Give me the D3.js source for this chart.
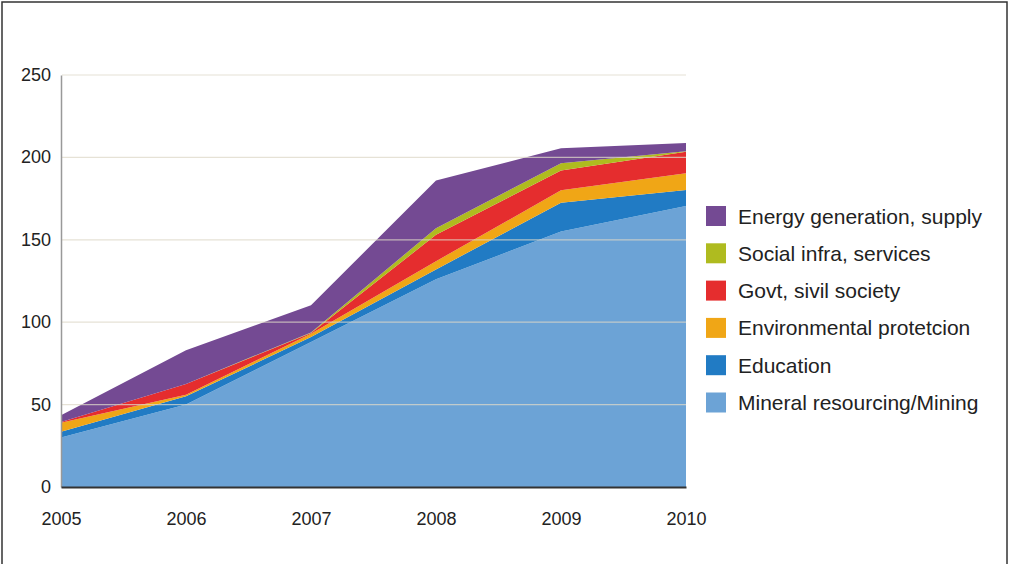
<!DOCTYPE html>
<html><head><meta charset="utf-8">
<script src="https://cdn.jsdelivr.net/npm/d3@7"></script>
<style>body{margin:0;background:#fff;}svg{display:block;font-family:"Liberation Sans",Arial,sans-serif;}</style>
</head><body>
<svg id="c" width="1010" height="564"></svg>
<script>
const years = [2005, 2006, 2007, 2008, 2009, 2010];
const mining = [30, 50, 88, 126, 155, 170.5];
const education = [3.5, 5, 3, 6, 17.5, 9.7];
const environment = [5.5, 1, 2, 5, 7.5, 10.2];
const govt = [0.5, 6.5, 0.5, 16, 12, 13.1];
const social = [0, 0, 0.3, 4, 4.5, 0.3];
const energy = [4, 20.5, 16.5, 29, 9, 5];
const seriesNames = ["Mineral resourcing/Mining", "Education", "Environmental protetcion", "Govt, sivil society", "Social infra, services", "Energy generation, supply"];
const seriesColors = ["#6ca3d6", "#217bc4", "#f0a616", "#e52d2e", "#afbb1f", "#744a93"];
const yTicks = [0, 50, 100, 150, 200, 250];

const seriesVals = [mining, education, environment, govt, social, energy];
const rows = years.map((y, i) => {
  const r = {year: y};
  seriesNames.forEach((n, k) => r[n] = seriesVals[k][i]);
  return r;
});

const svg = d3.select("#c");
// frame
svg.append("rect").attr("x", 2).attr("y", 2).attr("width", 1005).attr("height", 580)
  .attr("fill", "none").attr("stroke", "#333").attr("stroke-width", 1.5);

const x = d3.scaleLinear().domain([2005, 2010]).range([61, 686]);
const y = d3.scaleLinear().domain([0, 250]).range([487, 75]);

const stack = d3.stack().keys(seriesNames);
const layers = stack(rows);
const area = d3.area().x(d => x(d.data.year)).y0(d => y(d[0])).y1(d => y(d[1]));

svg.append("g").selectAll("path").data(layers).join("path")
  .attr("d", area).attr("fill", (d, i) => seriesColors[i]);

// gridlines
svg.append("g").selectAll("line").data(yTicks.filter(t => t > 0)).join("line")
  .attr("x1", 62).attr("x2", 686).attr("y1", d => y(d)).attr("y2", d => y(d))
  .attr("stroke", "#ddd8c8").attr("stroke-opacity", 0.75).attr("stroke-width", 1.2);

// y axis
const yAxis = d3.axisLeft(y).tickValues(yTicks).tickSize(0).tickPadding(10);
const gy = svg.append("g").attr("transform", "translate(61,0)").call(yAxis);
gy.select(".domain").attr("stroke", "#999").attr("stroke-width", 1.5);
gy.selectAll("text").attr("font-size", 18).attr("fill", "#222")
  .attr("font-family", "Liberation Sans, Arial, sans-serif").attr("dy", "0.3em");

// x axis
const xAxis = d3.axisBottom(x).tickValues(years).tickFormat(d3.format("d")).tickSize(0).tickPadding(25);
const gx = svg.append("g").attr("transform", "translate(0,487)").call(xAxis);
gx.select(".domain").attr("stroke", "#333").attr("stroke-width", 2);
gx.selectAll("text").attr("font-size", 18).attr("fill", "#222")
  .attr("font-family", "Liberation Sans, Arial, sans-serif");

// legend
const legendOrder = seriesNames.map((n, i) => i).reverse();
const lg = svg.append("g").attr("transform", "translate(706,206)");
const item = lg.selectAll("g").data(legendOrder).join("g")
  .attr("transform", (d, i) => `translate(0,${i * 37.3})`);
item.append("rect").attr("width", 20).attr("height", 20).attr("fill", d => seriesColors[d]);
item.append("text").attr("x", 32).attr("y", 10).attr("dy", "0.36em")
  .attr("font-size", 21).attr("fill", "#222").text(d => seriesNames[d]);
</script>
</body></html>
